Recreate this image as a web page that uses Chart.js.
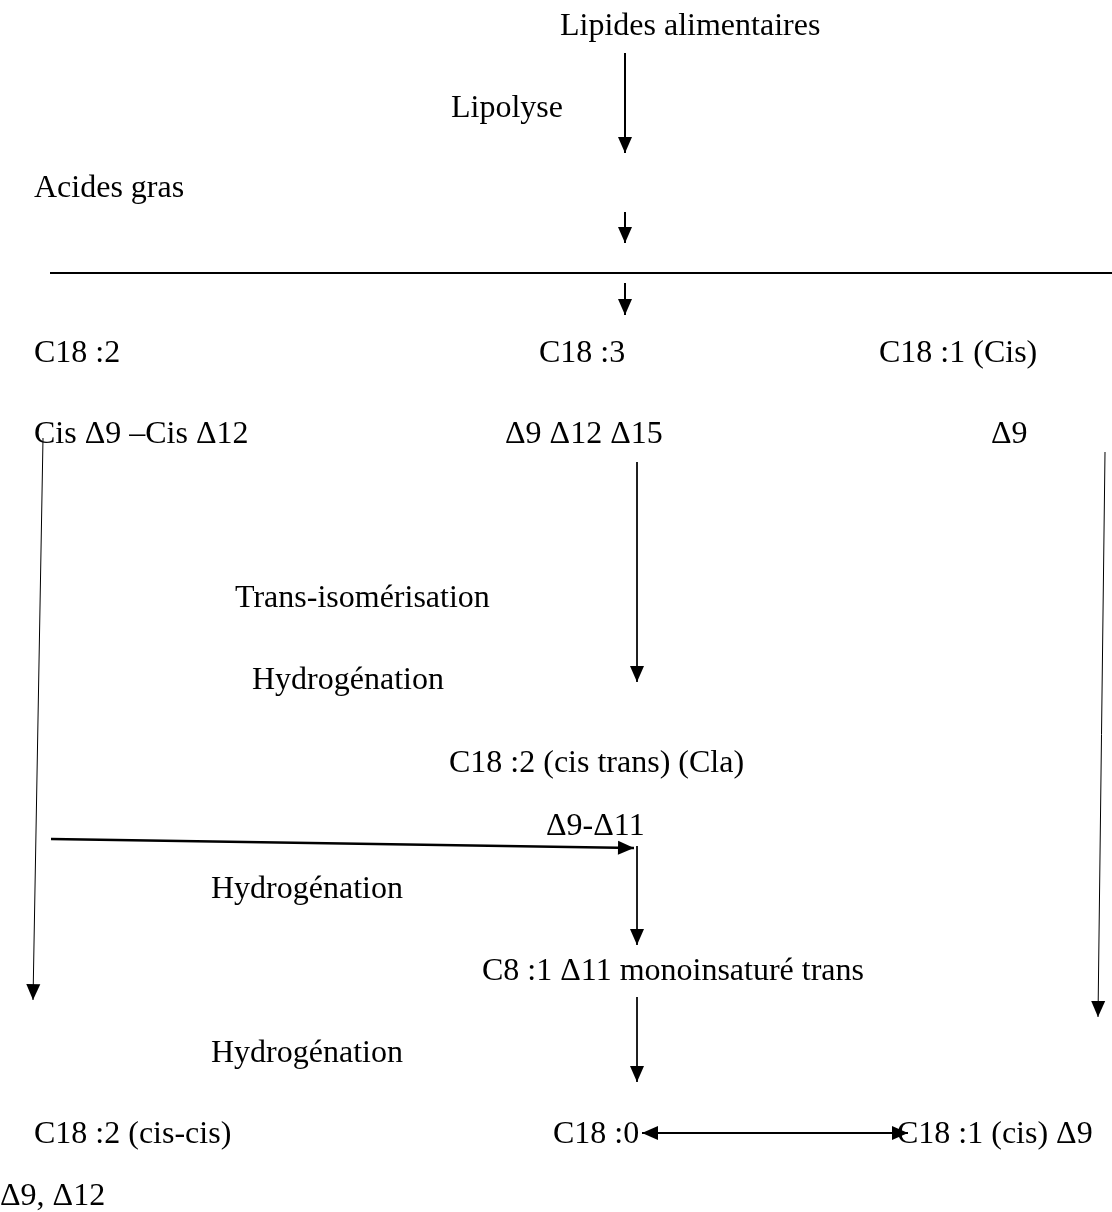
<!DOCTYPE html>
<html><head><meta charset="utf-8">
<script src="https://cdn.jsdelivr.net/npm/chart.js@4/dist/chart.umd.min.js"></script>
<style>html,body{margin:0;padding:0;background:#fff}#wrap{width:1112px;height:1212px;position:relative}</style>
</head><body><div id="wrap"><canvas id="c"></canvas></div>
<script>
// Node labels of the diagram and their anchor (left x, baseline y) in diagram units
const nodeLabels = ["Lipides alimentaires","Lipolyse","Acides gras","C18 :2","C18 :3","C18 :1 (Cis)",
  "Cis \u03949 \u2013Cis \u039412","\u03949 \u039412 \u039415","\u03949","Trans-isom\u00e9risation","Hydrog\u00e9nation",
  "C18 :2 (cis trans) (Cla)","\u03949-\u039411","Hydrog\u00e9nation","C8 :1 \u039411 monoinsatur\u00e9 trans",
  "Hydrog\u00e9nation","C18 :2 (cis-cis)","C18 :0","C18 :1 (cis) \u03949","\u03949, \u039412"];
const nodeX = [560,451,34,34,539,879,34,505,991,235,252,449,546,211,482,211,34,553,897,0];
const nodeY = [35,117,197,362,362,362,443,443,443,607,689,772,835,898,980,1062,1143,1143,1143,1205];
// Connectors: start and end points, and which ends carry a head
const arrowX1 = [625,625,50,625,43,637,1105,51,637,637,642];
const arrowY1 = [53,212,273,283,438,462,452,839,846,997,1133];
const arrowX2 = [625,625,1112,625,33,637,1098,634,637,637,908];
const arrowY2 = [153,243,273,315,1000,682,1017,848,945,1082,1133];
const arrowHeads = ["end","end","none","end","end","end","end","end","end","end","both"];
const arrowStroke = [2,2,2,2,1,1,1,2.5,1,1,2];

const datasets = arrowX1.map((x1,i)=>({
  type:'line',
  data:[{x:x1,y:arrowY1[i]},{x:arrowX2[i],y:arrowY2[i]}],
  borderColor:'#000',borderWidth:arrowStroke[i],pointRadius:0,fill:false,tension:0
}));

function head(ctx, fx, fy, tx, ty, len, half){
  const a = Math.atan2(ty-fy, tx-fx);
  ctx.beginPath();
  ctx.moveTo(tx,ty);
  ctx.lineTo(tx-len*Math.cos(a)+half*Math.sin(a), ty-len*Math.sin(a)-half*Math.cos(a));
  ctx.lineTo(tx-len*Math.cos(a)-half*Math.sin(a), ty-len*Math.sin(a)+half*Math.cos(a));
  ctx.closePath();
  ctx.fill();
}

const diagramPlugin = {
  id:'diagram',
  afterDatasetsDraw(chart){
    const ctx = chart.ctx, sx = chart.scales.x, sy = chart.scales.y;
    ctx.save();
    ctx.fillStyle='#000';
    arrowHeads.forEach((h,i)=>{
      const x1=sx.getPixelForValue(arrowX1[i]), y1=sy.getPixelForValue(arrowY1[i]);
      const x2=sx.getPixelForValue(arrowX2[i]), y2=sy.getPixelForValue(arrowY2[i]);
      if(h==='end'||h==='both') head(ctx,x1,y1,x2,y2,16,7);
      if(h==='both') head(ctx,x2,y2,x1,y1,16,7);
    });
    ctx.font = '32px "Liberation Serif", "Times New Roman", serif';
    ctx.textAlign='left'; ctx.textBaseline='alphabetic';
    nodeLabels.forEach((t,i)=>{
      ctx.fillText(t, sx.getPixelForValue(nodeX[i]), sy.getPixelForValue(nodeY[i]));
    });
    ctx.restore();
  }
};

new Chart(document.getElementById('c'),{
  type:'scatter',
  data:{datasets},
  options:{
    responsive:true, maintainAspectRatio:false, animation:false,
    layout:{padding:0},
    plugins:{legend:{display:false},tooltip:{enabled:false}},
    events:[],
    scales:{
      x:{type:'linear',min:0,max:1112,display:false},
      y:{type:'linear',min:0,max:1212,reverse:true,display:false}
    }
  },
  plugins:[diagramPlugin]
});
</script>
</body></html>
